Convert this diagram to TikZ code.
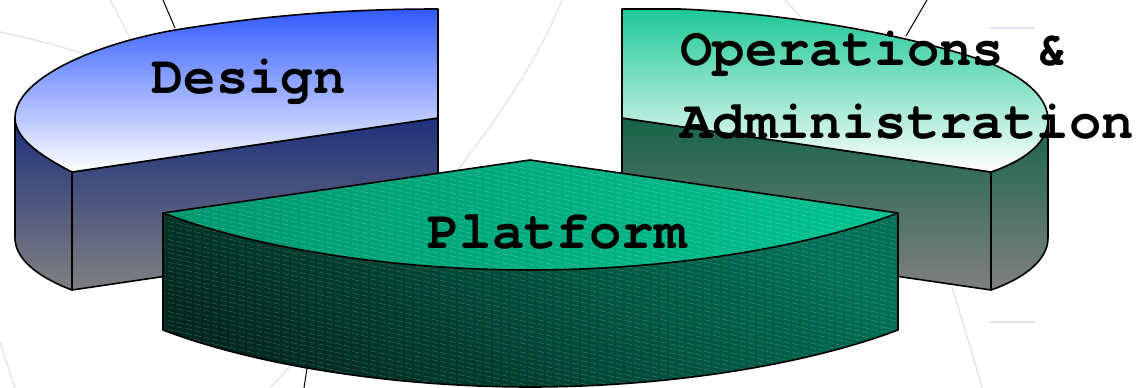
\documentclass[tikz,border=0pt]{standalone}
\usepackage{fontspec}
\newfontfamily\labelfont{TeX Gyre Cursor}
\definecolor{dtop}{RGB}{50,90,255}
\definecolor{dside}{RGB}{30,48,125}
\definecolor{graybot}{RGB}{128,128,128}
\definecolor{otop}{RGB}{30,200,150}
\definecolor{oside}{RGB}{22,100,72}
\definecolor{psidelight}{RGB}{0,112,86}
\definecolor{psidedark}{RGB}{0,40,30}
\definecolor{ptopleft}{RGB}{0,150,110}
\definecolor{ptopright}{RGB}{0,195,145}
\definecolor{bgline}{RGB}{224,227,236}
\begin{document}
\begin{tikzpicture}[x=1pt,y=-1pt,
  edgeline/.style={draw=black,line width=1.6pt,line join=round},
  leaderline/.style={draw=black,line width=1pt},
  faintline/.style={draw=bgline,line width=1.3pt},
  hatchline/.style={draw=white,opacity=0.22,line width=0.5pt,dash pattern=on 7pt off 2pt},
  slicelabel/.style={font=\labelfont\bfseries\fontsize{54}{60}\selectfont,inner sep=0pt,anchor=base west}]
\fill[white] (0,0) rectangle (1138,388);
\useasboundingbox (0,0) rectangle (1138,388);

% faint background strokes
\draw[faintline] (562,0) .. controls (520,110) and (380,270) .. (270,388);
\draw[faintline] (0,32) .. controls (30,38) and (60,46) .. (90,56);
\draw[faintline] (110,0) .. controls (118,14) and (124,26) .. (132,42);
\draw[faintline] (785,0) -- (802,18);
\draw[faintline] (990,28) -- (1035,28);
\draw[faintline] (952,287) .. controls (962,320) and (972,352) .. (982,388);
\draw[faintline] (990,322) -- (1035,322);
\draw[faintline] (0,342) .. controls (5,358) and (10,372) .. (15,388);

% leader lines of the three slices
\coordinate (dlead0) at (163,0);
\coordinate (dlead1) at (175,28);
\coordinate (olead0) at (927,0);
\coordinate (olead1) at (906,36);
\coordinate (plead0) at (304,388);
\coordinate (plead1) at (307,368);
\draw[leaderline] (dlead0) -- (dlead1);
\draw[leaderline] (olead0) -- (olead1);
\draw[leaderline] (plead0) -- (plead1);

% Design slice: side walls
\shadedraw[edgeline, top color=dside, bottom color=graybot]
  (15,118) -- (15,238) .. controls (15,262) and (45,280) .. (72,290)
  -- (438,236) -- (438,118) -- (72,172)
  .. controls (45,158) and (15,140) .. (15,118) -- cycle;
\draw[edgeline] (72,172) -- (72,290);
% Design slice: top face
\shadedraw[edgeline, top color=dtop, bottom color=white]
  (438,9) -- (438,118) -- (72,172)
  .. controls (45,158) and (15,140) .. (15,118)
  .. controls (15,80) and (90,45) .. (175,30)
  .. controls (250,18) and (330,9) .. (438,9) -- cycle;

% Operations slice: side walls
\shadedraw[edgeline, top color=oside, bottom color=graybot]
  (622,118) -- (991,172)
  .. controls (1020,162) and (1048,145) .. (1048,120)
  -- (1048,238) .. controls (1048,262) and (1020,280) .. (991,290)
  -- (622,236) -- cycle;
\draw[edgeline] (991,172) -- (991,290);
% Operations slice: top face
\shadedraw[edgeline, top color=otop, bottom color=white]
  (622,9) -- (680,9) .. controls (800,14) and (920,38) .. (990,63)
  .. controls (1030,80) and (1048,100) .. (1048,120)
  .. controls (1048,145) and (1020,162) .. (991,172)
  -- (622,118) -- cycle;

% Platform slice: front wall
\shade[top color=psidedark, bottom color=psidelight, shading angle=145]
  (163,213) .. controls (260,250) and (400,270) .. (530,270)
  .. controls (660,270) and (800,250) .. (898,213)
  -- (898,330) .. controls (800,367) and (660,387) .. (530,387)
  .. controls (400,387) and (260,367) .. (163,330) -- cycle;
% Platform slice: top face
\shade[left color=ptopleft, right color=ptopright]
  (163,213) -- (530,160) -- (898,213)
  .. controls (800,250) and (660,270) .. (530,270)
  .. controls (400,270) and (260,250) .. (163,213) -- cycle;
% Platform slice: fine diagonal hatching
\begin{scope}
  \clip (163,213) -- (530,160) -- (898,213) -- (898,330)
    .. controls (800,367) and (660,387) .. (530,387)
    .. controls (400,387) and (260,367) .. (163,330) -- cycle;
  \foreach \k in {0,...,92}
    \draw[hatchline] (150,{-12+4.5*\k}) -- (910,{-12+4.5*\k+165});
\end{scope}
% Platform slice: outlines
\draw[edgeline] (163,213) -- (530,160) -- (898,213) -- (898,330)
  .. controls (800,367) and (660,387) .. (530,387)
  .. controls (400,387) and (260,367) .. (163,330) -- cycle;
\draw[edgeline] (163,213) .. controls (260,250) and (400,270) .. (530,270)
  .. controls (660,270) and (800,250) .. (898,213);

% slice captions
\node[slicelabel] (design) at (151,93) {Design};
\node[slicelabel] (opsA) at (680,65) {Operations \&};
\node[slicelabel] (opsB) at (680,138) {Administration};
\node[slicelabel] (platform) at (427,248) {Platform};
\end{tikzpicture}
\end{document}
